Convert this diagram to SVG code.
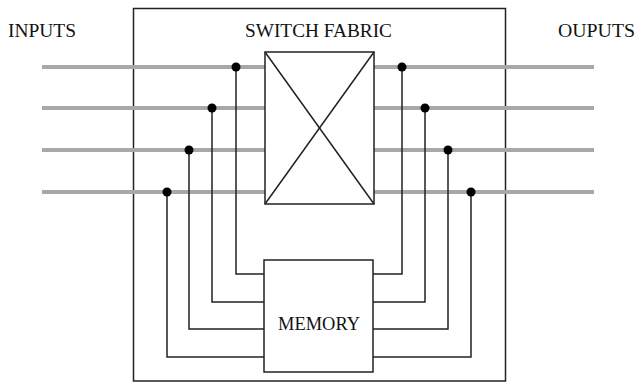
<svg xmlns="http://www.w3.org/2000/svg" width="635" height="383" viewBox="0 0 635 383">
<style>
.lbl{font-family:"Liberation Serif","Times New Roman",serif;font-size:19px;fill:#111;}
.bus{stroke:#a8a8a8;stroke-width:4;fill:none;}
.wire{stroke:#222;stroke-width:1.5;fill:none;}
.box{stroke:#222;stroke-width:1.5;fill:#fff;}
.dot{fill:#000;}
</style>
<rect width="635" height="383" fill="#fff"/>
<g id="outer"><rect x="133.5" y="8.5" width="372" height="372.5" fill="none" stroke="#222" stroke-width="1.5"/></g>
<g id="connectors">
<line class="bus" x1="42" y1="67" x2="265" y2="67"/>
<line class="bus" x1="42" y1="108" x2="265" y2="108"/>
<line class="bus" x1="42" y1="150" x2="265" y2="150"/>
<line class="bus" x1="42" y1="192" x2="265" y2="192"/>
<line class="bus" x1="374" y1="67" x2="594" y2="67"/>
<line class="bus" x1="374" y1="108" x2="594" y2="108"/>
<line class="bus" x1="374" y1="150" x2="594" y2="150"/>
<line class="bus" x1="374" y1="192" x2="594" y2="192"/>
<polyline class="wire" points="236,67 236,274 264,274"/>
<polyline class="wire" points="212,108 212,302 264,302"/>
<polyline class="wire" points="189,150 189,329 264,329"/>
<polyline class="wire" points="167,192 167,357 264,357"/>
<polyline class="wire" points="402,67 402,274 373,274"/>
<polyline class="wire" points="425,108 425,302 373,302"/>
<polyline class="wire" points="448,150 448,329 373,329"/>
<polyline class="wire" points="471,192 471,357 373,357"/>
<circle class="dot" cx="236" cy="67" r="4.5"/>
<circle class="dot" cx="212" cy="108" r="4.5"/>
<circle class="dot" cx="189" cy="150" r="4.5"/>
<circle class="dot" cx="167" cy="192" r="4.5"/>
<circle class="dot" cx="402" cy="67" r="4.5"/>
<circle class="dot" cx="425" cy="108" r="4.5"/>
<circle class="dot" cx="448" cy="150" r="4.5"/>
<circle class="dot" cx="471" cy="192" r="4.5"/>
</g>
<g id="switch-fabric">
<rect class="box" x="265" y="52" width="109" height="152"/>
<line class="wire" x1="265" y1="52" x2="374" y2="204"/>
<line class="wire" x1="374" y1="52" x2="265" y2="204"/>
<text class="lbl" x="245" y="37" textLength="147" lengthAdjust="spacingAndGlyphs">SWITCH FABRIC</text>
</g>
<g id="memory">
<rect class="box" x="264" y="260" width="109" height="112"/>
<text class="lbl" x="278" y="330" textLength="82" lengthAdjust="spacingAndGlyphs">MEMORY</text>
</g>
<g id="inputs"><text class="lbl" x="8" y="37" textLength="68" lengthAdjust="spacingAndGlyphs">INPUTS</text></g>
<g id="outputs"><text class="lbl" x="558" y="37" textLength="77" lengthAdjust="spacingAndGlyphs">OUPUTS</text></g>
</svg>
